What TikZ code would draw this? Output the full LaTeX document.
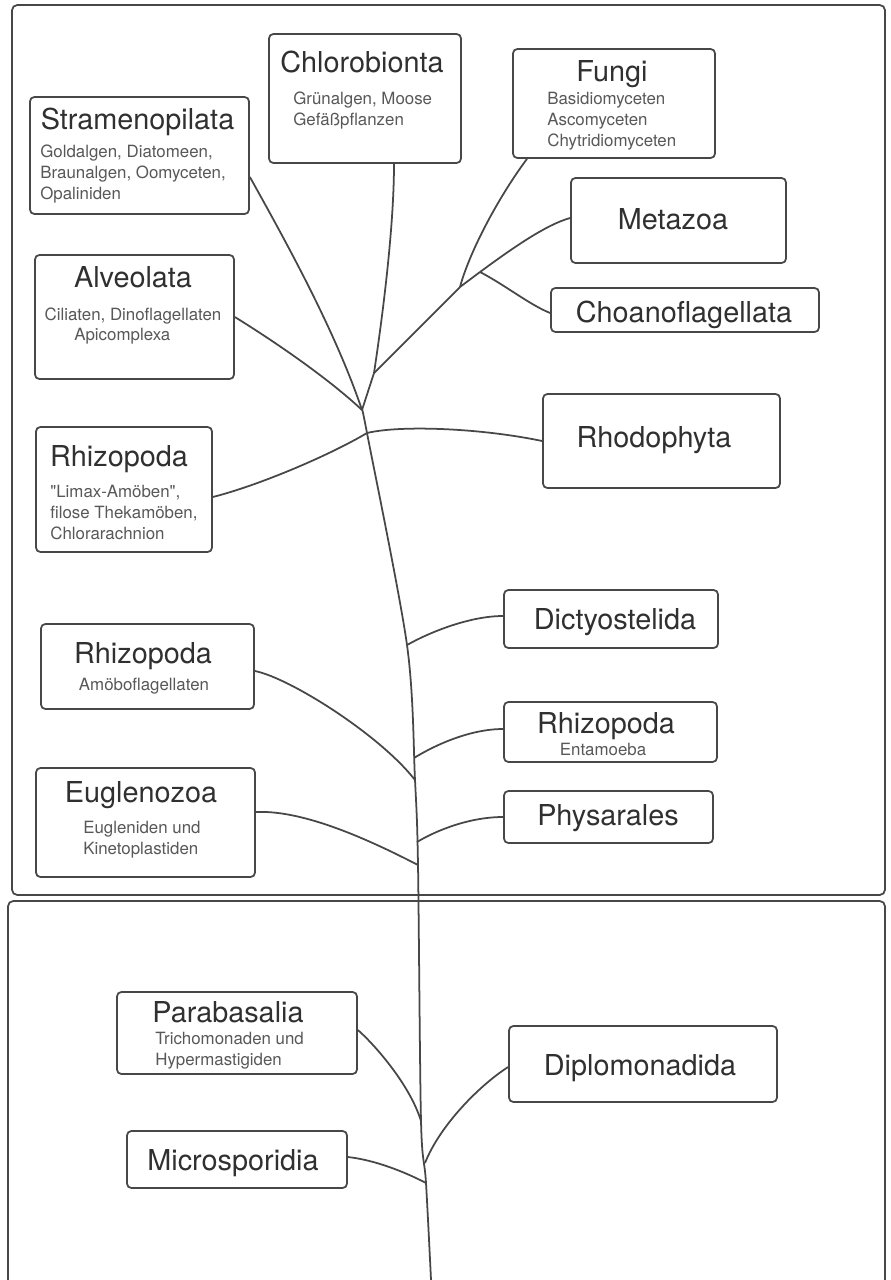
\documentclass[tikz,border=0pt]{standalone}
\usepackage{fontspec}
\setmainfont{TeX Gyre Heros}[Ligatures=TeXOff]
\usetikzlibrary{fit}

\definecolor{edgegray}{HTML}{474747}
\definecolor{titlegray}{HTML}{303030}
\definecolor{subgray}{HTML}{585858}

\begin{document}
\begin{tikzpicture}[x=0.02cm, y=-0.02cm,
  taxon/.style={draw=edgegray, line width=1pt, rounded corners=2.5pt, inner sep=0pt, fit={#1}},
  panel/.style={draw=edgegray, line width=1pt, rounded corners=3pt},
  title/.style={text=titlegray, font=\fontsize{16.4}{19}\selectfont, inner sep=0pt, anchor=base},
  sub/.style={text=subgray, font=\fontsize{9.6}{11.9}\selectfont, inner sep=0pt, anchor=north west, align=left},
  subline/.style={text=subgray, font=\fontsize{9.6}{11.9}\selectfont, inner sep=0pt, anchor=base},
  branch/.style={draw=edgegray, line width=1pt}]
\fill[white] (0,0) rectangle (891,1280);
\useasboundingbox (0,0) rectangle (891,1280);

% --- the two panels ---
\draw[panel] (12,5) rectangle (885,895);
\draw[panel] (8,901) rectangle (885,1300);

% --- upper panel: boxes ---
\node[taxon={(30,97) (249,214)}] (strameno) {};
\node[title] (stramenoT) at (137.5,130) {Stramenopilata};
\node[sub] (stramenoS) at (40,145) {Goldalgen, Diatomeen,\\Braunalgen, Oomyceten,\\Opaliniden};

\node[taxon={(269,34) (461,163)}] (chloro) {};
\node[title] (chloroT) at (362,73) {Chlorobionta};
\node[sub] (chloroS) at (293,92) {Grünalgen, Moose\\Gefäßpflanzen};

\node[taxon={(513,49) (715,158)}] (fungi) {};
\node[title] (fungiT) at (612,82) {Fungi};
\node[sub] (fungiS) at (547,92) {Basidiomyceten\\Ascomyceten\\Chytridiomyceten};

\node[taxon={(571,178) (786,263)}] (metazoa) {};
\node[title] (metazoaT) at (673,230) {Metazoa};

\node[taxon={(551,288) (819,332)}] (choano) {};
\node[title] (choanoT) at (684,322) {Choanoflagellata};

\node[taxon={(35,255) (234,379)}] (alveo) {};
\node[title] (alveoT) at (133,288) {Alveolata};
\node[subline] (alveoS) at (133,320) {Ciliaten, Dinoflagellaten};
\node[subline, anchor=base west] (alveoS2) at (74,340) {Apicomplexa};

\node[taxon={(543,394) (780,488)}] (rhodo) {};
\node[title] (rhodoT) at (654,447) {Rhodophyta};

\node[taxon={(36,427) (212,552)}] (limax) {};
\node[title] (limaxT) at (119,466) {Rhizopoda};
\node[sub] (limaxS) at (50,485) {"Limax-Amöben",\\filose Thekamöben,\\Chlorarachnion};

\node[taxon={(504,590) (718,648)}] (dictyo) {};
\node[title] (dictyoT) at (615,629) {Dictyostelida};

\node[taxon={(41,624) (254,709)}] (amoebo) {};
\node[title] (amoeboT) at (143,663) {Rhizopoda};
\node[subline] (amoeboS) at (144,690) {Amöboflagellaten};

\node[taxon={(504,702) (717,762)}] (entam) {};
\node[title] (entamT) at (606,733) {Rhizopoda};
\node[subline] (entamS) at (603,755) {Entamoeba};

\node[taxon={(36,768) (255,877)}] (euglen) {};
\node[title] (euglenT) at (141,802) {Euglenozoa};
\node[sub] (euglenS) at (83,821) {Eugleniden und\\Kinetoplastiden};

\node[taxon={(504,791) (713,843)}] (physa) {};
\node[title] (physaT) at (608,825) {Physarales};

% --- lower panel: boxes ---
\node[taxon={(117,992) (357,1074)}] (paraba) {};
\node[title] (parabaT) at (228,1022) {Parabasalia};
\node[sub] (parabaS) at (155,1032) {Trichomonaden und\\Hypermastigiden};

\node[taxon={(509,1026) (777,1102)}] (diplo) {};
\node[title] (diploT) at (640,1075) {Diplomonadida};

\node[taxon={(127,1131) (347,1188)}] (micro) {};
\node[title] (microT) at (233,1170) {Microsporidia};

% --- junctions on the stem ---
\coordinate (root) at (432,1300);
\coordinate (jMicro) at (426,1183);
\coordinate (jDiplo) at (425,1163);
\coordinate (jPara) at (421,1121);
\coordinate (jEugl) at (418,865);
\coordinate (jPhys) at (417,842);
\coordinate (jAmoe) at (415,780);
\coordinate (jEnta) at (414,758);
\coordinate (jDict) at (407,645);
\coordinate (jRhodo) at (367,433);
\coordinate (jAlv) at (362,410);
\coordinate (jChl) at (374,373);
\coordinate (jFun) at (460,287);
\coordinate (jChoano) at (480,272);

% --- stem ---
\draw[branch] plot[smooth, tension=0.5] coordinates {(root) (jMicro) (jPara) (jEugl) (jAmoe) (jDict) (jRhodo) (jAlv)};
\draw[branch] (jAlv) -- (jChl);
\draw[branch] (jChl) .. controls (385,300) and (394,220) .. (chloro.south -| 394,0);
\draw[branch] (jChl) -- (jFun);
\draw[branch] (jFun) .. controls (470,250) and (500,195) .. (fungi.south -| 527,0);
\draw[branch] (jFun) -- (jChoano);
\draw[branch] (jChoano) .. controls (510,250) and (545,225) .. (metazoa.west |- 0,218);
\draw[branch] (jChoano) .. controls (505,285) and (530,305) .. (choano.west |- 0,313);

% --- side branches ---
\draw[branch] (strameno.east |- 0,177) .. controls (285,240) and (335,330) .. (jAlv);
\draw[branch] (alveo.east) .. controls (280,345) and (330,380) .. (jAlv);
\draw[branch] (limax.east |- 0,497) .. controls (260,485) and (330,455) .. (jRhodo);
\draw[branch] (jRhodo) .. controls (400,425) and (480,428) .. (rhodo.west);
\draw[branch] (dictyo.west |- 0,616) .. controls (470,616) and (430,632) .. (jDict);
\draw[branch] (entam.west |- 0,729) .. controls (470,729) and (435,745) .. (jEnta);
\draw[branch] (physa.west) .. controls (470,817) and (437,830) .. (jPhys);
\draw[branch] (amoebo.east |- 0,671) .. controls (290,678) and (380,735) .. (jAmoe);
\draw[branch] (euglen.east |- 0,812) .. controls (300,810) and (360,835) .. (jEugl);
\draw[branch] (paraba.east |- 0,1030) .. controls (375,1045) and (410,1085) .. (jPara);
\draw[branch] (diplo.west |- 0,1067) .. controls (480,1085) and (440,1125) .. (jDiplo);
\draw[branch] (micro.east |- 0,1157) .. controls (375,1160) and (405,1172) .. (jMicro);
\end{tikzpicture}
\end{document}
